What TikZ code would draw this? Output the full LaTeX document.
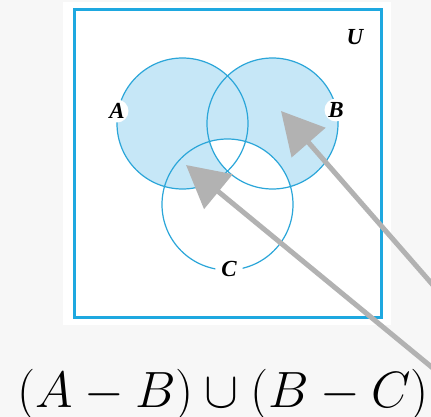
\RequirePackage{fix-cm}
\documentclass[tikz,border=0pt]{standalone}
\usepackage{fontspec}
\setmainfont{Liberation Serif}
\usetikzlibrary{arrows.meta}
\definecolor{bggray}{RGB}{247,247,247}
\definecolor{framebl}{RGB}{30,168,224}
\definecolor{circbl}{RGB}{43,166,217}
\definecolor{fillbl}{RGB}{198,231,247}
\definecolor{arrgray}{RGB}{178,178,178}
\tikzset{
  setcirc/.style={draw=circbl, line width=1.2pt},
  labfont/.style={font=\fontsize{23}{26}\selectfont\bfseries\itshape},
  setlab/.style={labfont, circle, fill=white, inner sep=0.5pt},
  pointer/.style={draw=arrgray, line width=5pt, -{Triangle[length=42pt,width=44pt]}}
}
\begin{document}
\begin{tikzpicture}[x=1pt,y=-1pt]
\useasboundingbox (0,0) rectangle (431,417);
\clip (0,0) rectangle (431,417);
\fill[bggray] (0,0) rectangle (431,417);
\fill[white] (63,2) rectangle (391,325);
% shading: (A u B) minus (B n C)
\fill[fillbl] (182.5,123.5) circle[radius=65.5pt];
\fill[fillbl] (272.5,123.5) circle[radius=65.5pt];
\begin{scope}
  \clip (272.5,123.5) circle[radius=65.5pt];
  \fill[white] (227.5,204.5) circle[radius=65.5pt];
\end{scope}
\draw[setcirc] (182.5,123.5) circle[radius=65.5pt];
\draw[setcirc] (272.5,123.5) circle[radius=65.5pt];
\draw[setcirc] (227.5,204.5) circle[radius=65.5pt];
\draw[draw=framebl, line width=3pt] (74,10) rectangle (381,317);
\node[setlab] (labA) at (117,111) {A};
\node[setlab] (labB) at (336,110) {B};
\node[setlab, inner sep=2pt] (labC) at (229,269) {C};
\node[labfont] (labU) at (355,37) {U};
\node[anchor=base west, inner sep=0pt, font=\fontsize{51}{60}\selectfont] (formula) at (17,407) {$(A-B)\cup(B-C)$};
\coordinate (startB) at (446,300);
\coordinate (tipB) at (281,111);
\coordinate (startA) at (451,383);
\coordinate (tipA) at (186,165);
\draw[pointer] (startB) -- (tipB);
\draw[pointer] (startA) -- (tipA);
\end{tikzpicture}
\end{document}
